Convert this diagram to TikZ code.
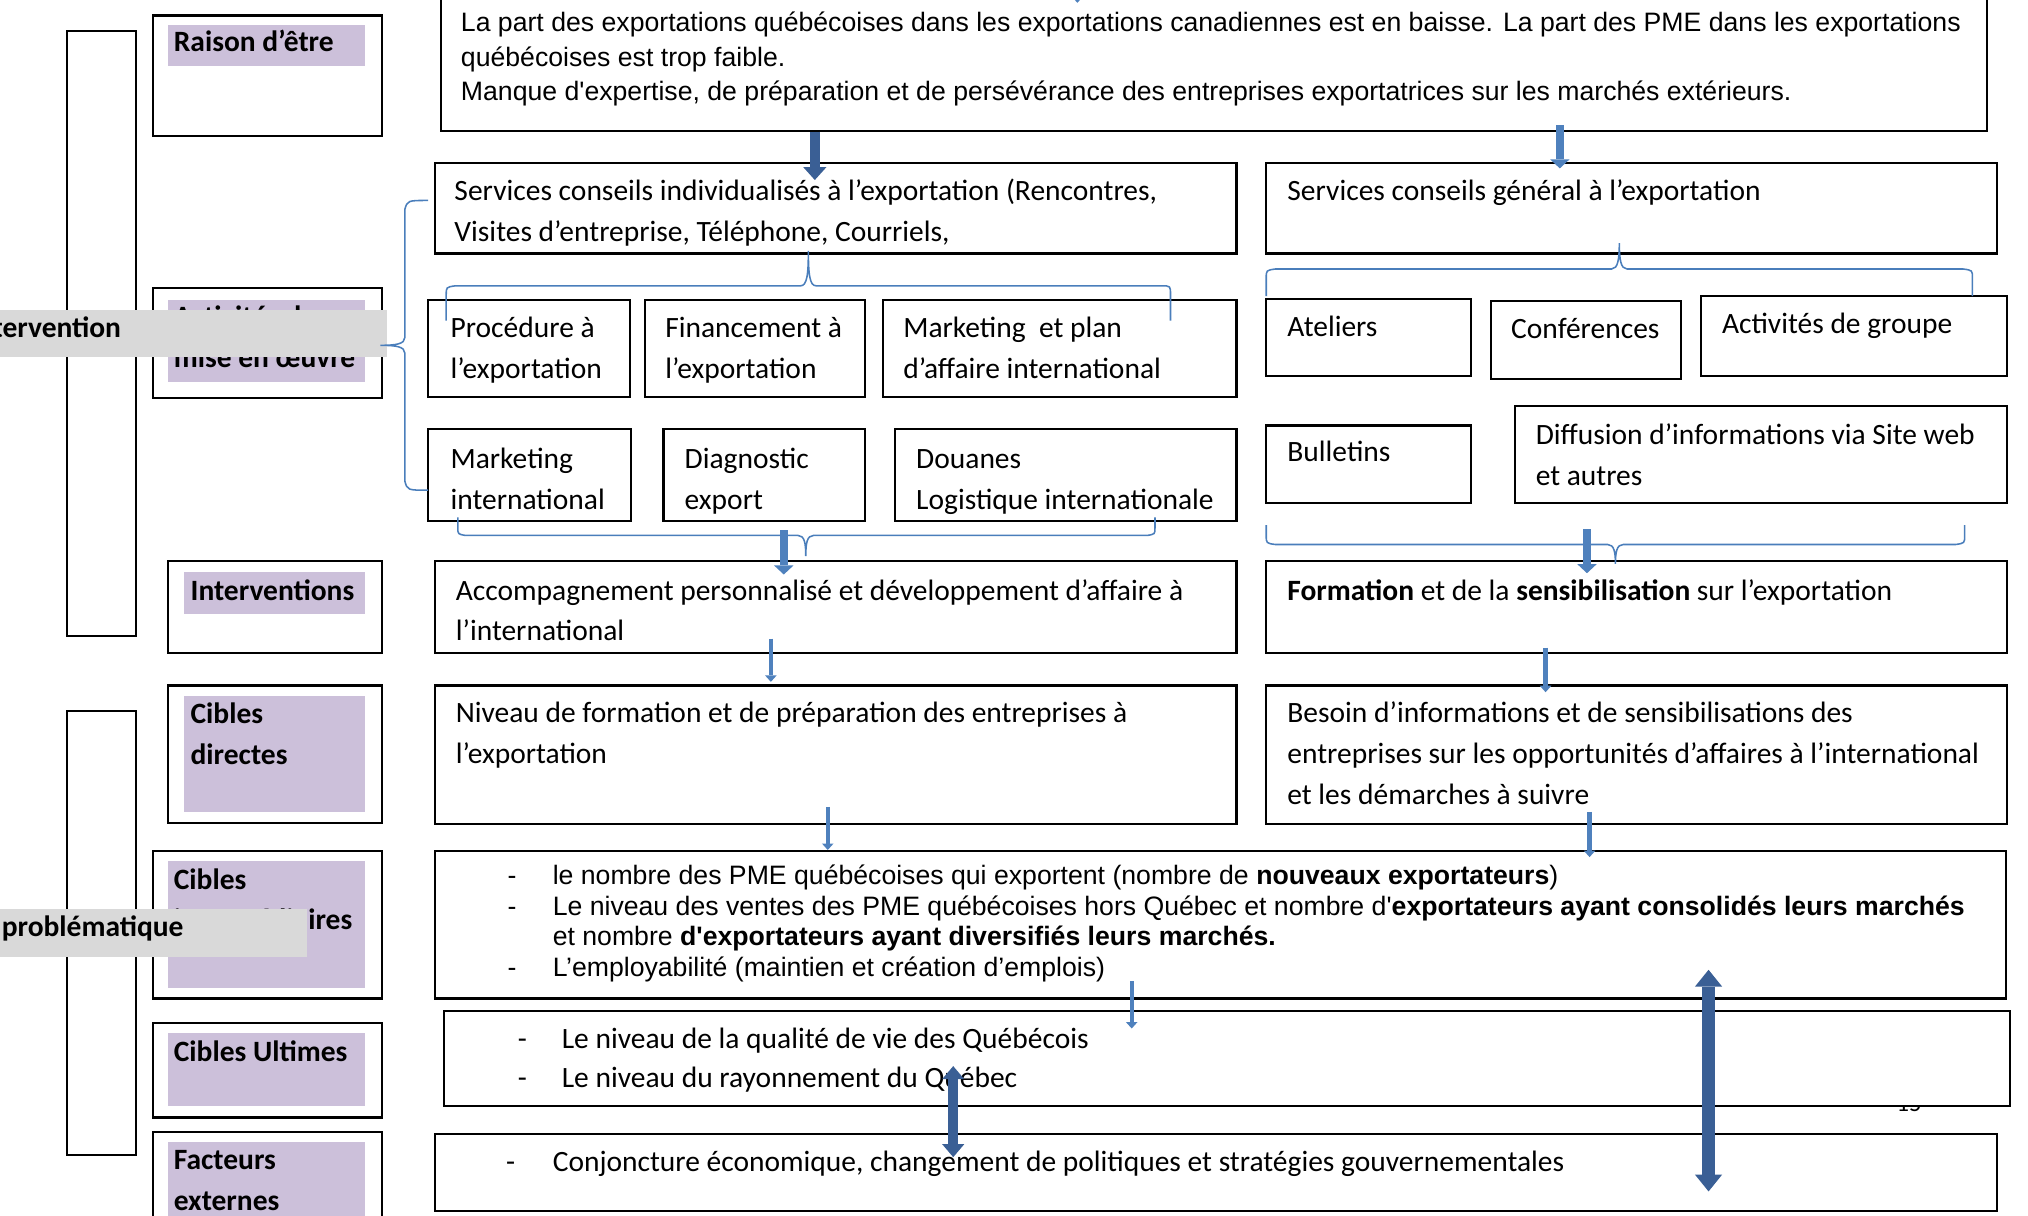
\documentclass[tikz,border=0pt]{standalone}
\usepackage{fontspec}
\setmainfont{Carlito}
\newfontfamily\arial{Liberation Sans}
\usetikzlibrary{fit,arrows.meta}
\definecolor{mauve}{HTML}{CCC0DA}
\definecolor{grisclair}{HTML}{D9D9D9}
\definecolor{bleutrait}{HTML}{4A7EBB}
\definecolor{bleufleche}{HTML}{4F81BD}
\definecolor{bleufonce}{HTML}{3A5F95}

\begin{document}
\begin{tikzpicture}[x=0.5pt,y=-0.5pt,
  cadre/.style={draw, line width=0.8pt, inner sep=0pt},
  bande/.style={fill=grisclair, inner sep=0pt},
  txt/.style={inner sep=0pt, anchor=base west, align=left, font=\fontsize{11.4}{15.8}\selectfont},
  titre/.style={txt, font=\fontsize{11.4}{15.8}\selectfont\bfseries},
  arialtxt/.style={txt, font=\arial\fontsize{10.3}{13.3}\selectfont},
  accolade/.style={draw=bleutrait, line width=0.6pt},
  grosse/.style={draw=bleufonce, line width=4pt, -{Triangle[width=9pt,length=5pt,line width=0pt]}},
  moyenne/.style={draw=bleufleche, line width=3.2pt, -{Triangle[width=7.5pt,length=3.5pt,line width=0pt]}},
  fine/.style={draw=bleufleche, line width=1.7pt, -{Triangle[width=4.5pt,length=2.5pt,line width=0pt]}},
  bidir/.style={draw=bleufonce, line width=4pt, {Triangle[width=8.5pt,length=5pt,line width=0pt]}-{Triangle[width=8.5pt,length=5pt,line width=0pt]}}]
  \useasboundingbox (0,0) rectangle (1568,940);
  \clip (0,0) rectangle (1568,940);

  \node[cadre, fit={(52,24) (105,492)}] (logiqueA) {};
  \node[cadre, fit={(52,550) (105,893)}] (logiqueB) {};

  \node[cadre, fit={(118,12) (295,105)}] (raison) {};
  \node[cadre, fit={(118,223) (295,308)}] (activites) {};
  \node[cadre, fit={(130,434) (295,505)}] (interv) {};
  \node[cadre, fit={(130,530) (295,636)}] (cdirectes) {};
  \node[cadre, fit={(118,658) (295,772)}] (cinterm) {};
  \node[cadre, fit={(118,791) (295,864)}] (cultimes) {};
  \node[cadre, fit={(118,875) (295,960)}] (facteurs) {};
  \fill[mauve] (130,19) rectangle (282,51);
  \fill[mauve] (130,232) rectangle (282,295);
  \fill[mauve] (142,442) rectangle (282,475);
  \fill[mauve] (142,538) rectangle (282,628);
  \fill[mauve] (130,666) rectangle (282,764);
  \fill[mauve] (130,799) rectangle (282,855);
  \fill[mauve] (130,883) rectangle (282,960);
  \node[titre] (tRaison) at (134,40) {Raison d’être};
  \node[titre] (tActiv) at (134,284) {Activités de\\mise en œuvre};
  \node[titre] (tInterv) at (147,464) {Interventions};
  \node[titre] (tDirectes) at (147,591) {Cibles\\directes};
  \node[titre] (tInterm) at (134,719) {Cibles\\intermédiaires};
  \node[titre] (tUltimes) at (134,821) {Cibles Ultimes};
  \node[titre] (tFacteurs) at (134,936) {Facteurs\\externes};

  \node[bande, fit={(0,240) (299,276)}] (bandeA) {};
  \node[titre, anchor=base east] (tBandeA) at (94,261) {intervention};
  \node[bande, fit={(0,703) (237,740)}] (bandeB) {};
  \node[titre] (tBandeB) at (1,724) {problématique};

  \node[cadre, fit={(341,-12) (1536,101)}] (probleme) {};
  \node[cadre, fit={(336,126) (956,196)}] (indiv) {};
  \node[cadre, fit={(979,126) (1544,196)}] (general) {};
  \node[cadre, fit={(331,232) (487,307)}] (proc) {};
  \node[cadre, fit={(499,232) (669,307)}] (finan) {};
  \node[cadre, fit={(683,232) (956,307)}] (mkplan) {};
  \node[cadre, fit={(331,332) (488,403)}] (mkint) {};
  \node[cadre, fit={(513,332) (669,403)}] (diag) {};
  \node[cadre, fit={(692,332) (956,403)}] (douane) {};
  \node[cadre, fit={(979,231) (1137,291)}] (atel) {};
  \node[cadre, fit={(1153,233) (1300,293)}] (conf) {};
  \node[cadre, fit={(1315,229) (1552,291)}] (actgr) {};
  \node[cadre, fit={(979,329) (1137,389)}] (bull) {};
  \node[cadre, fit={(1171,314) (1552,389)}] (diff) {};
  \node[cadre, fit={(336,434) (956,505)}] (accomp) {};
  \node[cadre, fit={(979,434) (1552,505)}] (formsens) {};
  \node[cadre, fit={(336,530) (956,637)}] (nivform) {};
  \node[cadre, fit={(979,530) (1552,637)}] (besoin) {};
  \node[cadre, fit={(336,658) (1551,772)}] (intermed) {};
  \node[txt, font=\fontsize{9.5}{11}\selectfont] (numPage) at (1466,859.5) {15};
  \node[cadre, fill=white, fit={(343,782) (1554,855)}] (ultimes) {};
  \node[cadre, fit={(336,877) (1544,936)}] (externes) {};

  \node[arialtxt] (tProbleme) at (356,77.7) {La part des exportations québécoises dans les exportations canadiennes est en baisse. La part des PME dans les exportations\\québécoises est trop faible.\\Manque d'expertise, de préparation et de persévérance des entreprises exportatrices sur les marchés extérieurs.};
  \node[txt] (tIndiv) at (351,186.6) {Services conseils individualisés à l’exportation (Rencontres,\\Visites d’entreprise, Téléphone, Courriels,};
  \node[txt] (tGeneral) at (995,155) {Services conseils général à l’exportation};
  \node[txt] (tProc) at (348,292.6) {Procédure à\\l’exportation};
  \node[txt] (tFinan) at (514,292.6) {Financement à\\l’exportation};
  \node[txt] (tMkplan) at (698,292.6) {Marketing\ \ et plan\\d’affaire international};
  \node[txt] (tMkint) at (348,393.6) {Marketing\\international};
  \node[txt] (tDiag) at (529,393.6) {Diagnostic\\export};
  \node[txt] (tDouane) at (708,393.6) {Douanes\\Logistique internationale};
  \node[txt] (tAtel) at (995,260) {Ateliers};
  \node[txt] (tConf) at (1168,262) {Conférences};
  \node[txt] (tActgr) at (1331,258) {Activités de groupe};
  \node[txt] (tBull) at (995,357) {Bulletins};
  \node[txt] (tDiff) at (1187,375.6) {Diffusion d’informations via Site web\\et autres};
  \node[txt] (tAccomp) at (352,495.6) {Accompagnement personnalisé et développement d’affaire à\\l’international};
  \node[txt] (tFormsens) at (995,464) {\textbf{Formation} et de la \textbf{sensibilisation} sur l’exportation};
  \node[txt] (tNivform) at (352,590.6) {Niveau de formation et de préparation des entreprises à\\l’exportation};
  \node[txt] (tBesoin) at (995,622.2) {Besoin d’informations et de sensibilisations des\\entreprises sur les opportunités d’affaires à l’international\\et les démarches à suivre};
  \node[arialtxt, font=\arial\fontsize{10.3}{11.8}\selectfont] (tiretsInterm) at (392,754.8) {-\\-\\~\\-};
  \node[arialtxt, font=\arial\fontsize{10.3}{11.8}\selectfont] (tInterm) at (427,754.8) {le nombre des PME québécoises qui exportent (nombre de \textbf{nouveaux exportateurs})\\Le niveau des ventes des PME québécoises hors Québec et nombre d'\textbf{exportateurs ayant consolidés leurs marchés}\\et nombre \textbf{d'exportateurs ayant diversifiés leurs marchés.}\\L’employabilité (maintien et création d’emplois)};
  \node[txt, font=\fontsize{11.4}{15}\selectfont] (tiretsUltimes) at (400,841) {-\\-};
  \node[txt, font=\fontsize{11.4}{15}\selectfont] (tUltimesC) at (434,841) {Le niveau de la qualité de vie des Québécois\\Le niveau du rayonnement du Québec};
  \node[txt] (tiretExternes) at (391,906) {-};
  \node[txt] (tExternes) at (427,906) {Conjoncture économique, changement de politiques et stratégies gouvernementales};

  \draw[accolade] (345,248) -- (345,228) .. controls (345,222) .. (352,221) -- (619,221) .. controls (624,221) and (625,212) .. (625,194) .. controls (625,212) and (626,221) .. (631,221) -- (898,221) .. controls (905,221) .. (905,228) -- (905,248);
  \draw[accolade] (979,229) -- (979,215) .. controls (979,209) .. (986,208) -- (1246,208) .. controls (1251,208) and (1252,200) .. (1252,188) .. controls (1252,200) and (1253,208) .. (1258,208) -- (1518,208) .. controls (1525,209) .. (1525,215) -- (1525,229);
  \draw[accolade] (331,155) .. controls (315,155) .. (313,162) -- (313,261) .. controls (313,266) and (306,267) .. (294,267) .. controls (306,267) and (313,268) .. (313,273) -- (313,372) .. controls (315,379) .. (331,379);
  \draw[accolade] (354,400) -- (354,408) .. controls (354,413) .. (360,414) -- (617,414) .. controls (622,414) and (623,420) .. (623,430) .. controls (623,420) and (624,414) .. (629,414) -- (887,414) .. controls (893,413) .. (893,408) -- (893,400);
  \draw[accolade] (979,406) -- (979,414) .. controls (979,420) .. (986,421) -- (1243,421) .. controls (1248,421) and (1249,427) .. (1249,436) .. controls (1249,427) and (1250,421) .. (1255,421) -- (1512,421) .. controls (1519,420) .. (1519,414) -- (1519,406);

  \coordinate (amont) at (833,-40);
  \draw[fine, shorten >=-7.5pt] (amont) -- (probleme.north -| amont);
  \draw[grosse, shorten >=-7pt] (probleme.south -| 630,0) -- (indiv.north -| 630,0);
  \draw[moyenne, shorten <=-2.5pt, shorten >=-2.5pt] (probleme.south -| 1206,0) -- (general.north -| 1206,0);
  \draw[moyenne, shorten <=3pt, shorten >=-5.5pt] (mkint.south -| 606,0) -- (accomp.north -| 606,0);
  \draw[moyenne, shorten <=9.7pt, shorten >=-5pt] (bull.south -| 1227,0) -- (formsens.north -| 1227,0);
  \draw[fine, shorten <=-6pt, shorten >=1pt] (accomp.south -| 596,0) -- (nivform.north -| 596,0);
  \draw[fine, shorten <=-2.5pt, shorten >=-3pt] (formsens.south -| 1195,0) -- (besoin.north -| 1195,0);
  \draw[fine, shorten <=-7pt] (nivform.south -| 640,0) -- (intermed.north -| 640,0);
  \draw[fine, shorten <=-5pt, shorten >=-2.75pt] (besoin.south -| 1229,0) -- (intermed.north -| 1229,0);
  \draw[fine, shorten <=-7pt, shorten >=-7pt] (intermed.south -| 875,0) -- (ultimes.north -| 875,0);
  \draw[bidir, shorten <=-15.75pt, shorten >=-9.25pt] (ultimes.south -| 737,0) -- (externes.north -| 737,0);
  \draw[bidir, line width=5pt, {Triangle[width=10.5pt,length=6.5pt,line width=0pt]}-{Triangle[width=10.5pt,length=6.5pt,line width=0pt]}, shorten <=-11.5pt, shorten >=-22.5pt] (intermed.south -| 1321,0) -- (externes.north -| 1321,0);
\end{tikzpicture}
\end{document}
